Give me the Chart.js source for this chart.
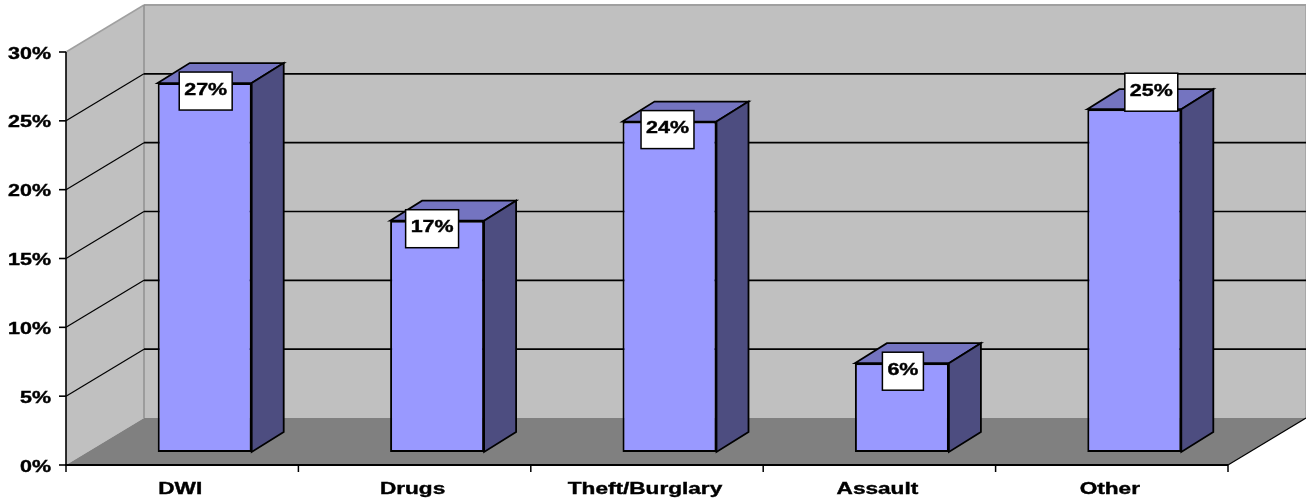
<!DOCTYPE html>
<html><head><meta charset="utf-8">
<style>html,body{margin:0;padding:0;background:#fff}canvas{display:block}</style>
<script src="https://cdn.jsdelivr.net/npm/chart.js@4"></script>
</head><body><canvas id="c" width="1306" height="499"></canvas>
<script>
const categories = ['DWI','Drugs','Theft/Burglary','Assault','Other'];
const shares = [26.8,16.8,24,6.45,24.9];
const shareLabels = ['27%','17%','24%','6%','25%'];
const yTicks = [0,5,10,15,20,25,30];

// 3D look
const DEPTH = {x:78,y:-47}, BAR_SHIFT = {x:22.5,y:-13}, BAR_DEPTH = {x:32,y:-20};
const LABEL_NUDGE_X = [1,-5,-2,1,17];
const LABEL_NUDGE_Y = [0,0,0,0,-25];
const STRETCH = 1.3, CAT_STRETCH = 1.37, FONT = 'bold 16.5px "Liberation Sans", Arial, sans-serif';

function poly(ctx, pts, fill, stroke, lw){
  ctx.beginPath(); pts.forEach((p,i)=> i?ctx.lineTo(p[0],p[1]):ctx.moveTo(p[0],p[1])); ctx.closePath();
  if(fill){ctx.fillStyle=fill;ctx.fill();}
  if(stroke){ctx.strokeStyle=stroke;ctx.lineWidth=lw;ctx.lineJoin='miter';ctx.stroke();}
}
function line(ctx,x1,y1,x2,y2,color,lw){
  ctx.beginPath();ctx.moveTo(x1,y1);ctx.lineTo(x2,y2);ctx.strokeStyle=color;ctx.lineWidth=lw;ctx.stroke();
}
function text(ctx,s,x,y,align,stretch){
  ctx.save();ctx.font=FONT;ctx.fillStyle='#000';ctx.strokeStyle='#000';ctx.lineWidth=0.4;ctx.textBaseline='middle';ctx.textAlign=align;
  ctx.translate(x,y);ctx.scale(stretch||STRETCH,1);ctx.fillText(s,0,0);ctx.strokeText(s,0,0);
  ctx.restore();
}
const scene = {
  id:'scene',
  beforeDatasetsDraw(chart){
    const {ctx,chartArea:a,scales:{x,y}}=chart, dx=DEPTH.x, dy=DEPTH.y;
    ctx.save();
    const L=a.left,R=a.right,T=a.top,B=a.bottom;
    poly(ctx,[[L,T],[L+dx,T+dy],[L+dx,B+dy],[L,B]],'#c0c0c0');
    poly(ctx,[[L+dx,T+dy],[R+dx,T+dy],[R+dx,B+dy],[L+dx,B+dy]],'#c0c0c0');
    poly(ctx,[[L,B],[L+dx,B+dy],[R+dx,B+dy],[R,B]],'#808080');
    line(ctx,L,T,L+dx,T+dy,'#a0a0a0',1.5);
    line(ctx,L+dx,T+dy,R+dx,T+dy,'#a0a0a0',2);
    line(ctx,R+dx,T+dy,R+dx,B+dy,'#a0a0a0',1.5);
    line(ctx,L+dx,T+dy,L+dx,B+dy,'#909090',1.5);
    yTicks.forEach(v=>{
      const p=y.getPixelForValue(v);
      if(v>0&&v<30){
        line(ctx,L,p,L+dx,p+dy,'#000',1.2);
        line(ctx,L+dx,p+dy,R+dx,p+dy,'#000',1.6);
      }
      line(ctx,L-7,p,L,p,'#000',1.6);
      text(ctx,v+'%',L-15,p+2,'right');
    });
    line(ctx,R,B,R+dx,B+dy,'#000',1.2);
    line(ctx,L,T,L,B+1,'#000',1.6);
    line(ctx,L-1,B,R,B,'#000',2);
    const half=(x.getPixelForValue(1)-x.getPixelForValue(0))/2;
    categories.forEach((c,i)=>{
      const p=x.getPixelForValue(i);
      line(ctx,p-half,B,p-half,B+7,'#000',1.5);
      if(i===categories.length-1) line(ctx,p+half,B,p+half,B+7,'#000',1.5);
      text(ctx,c,p-2,B+24,'center',CAT_STRETCH);
    });
    ctx.restore();
    ctx.save();
    ctx.translate(BAR_SHIFT.x,BAR_SHIFT.y);
  },
  afterDatasetsDraw(chart){
    const {ctx}=chart;
    ctx.restore();
    const meta=chart.getDatasetMeta(0), dx=BAR_DEPTH.x, dy=BAR_DEPTH.y;
    ctx.save();
    meta.data.forEach(b=>{
      const l=b.x-b.width/2+BAR_SHIFT.x,r=b.x+b.width/2+BAR_SHIFT.x,t=b.y+BAR_SHIFT.y,bo=b.base+BAR_SHIFT.y;
      poly(ctx,[[l,t],[l+dx,t+dy],[r+dx,t+dy],[r,t]],'#7474c0','#000',1.8);
      poly(ctx,[[r,t],[r+dx,t+dy],[r+dx,bo+dy],[r,bo]],'#4d4d80','#000',1.8);
    });
    ctx.font=FONT;
    meta.data.forEach((b,i)=>{
      const s=shareLabels[i],w=ctx.measureText(s).width*STRETCH+10;
      const cx=b.x+BAR_SHIFT.x+LABEL_NUDGE_X[i],top=b.y+BAR_SHIFT.y-11+LABEL_NUDGE_Y[i];
      ctx.fillStyle='#fff';ctx.fillRect(cx-w/2,top,w,38);
      ctx.strokeStyle='#000';ctx.lineWidth=1.5;ctx.strokeRect(cx-w/2,top,w,38);
      text(ctx,s,cx,top+18,'center');
    });
    ctx.restore();
  }
};
new Chart(document.getElementById('c'),{
  type:'bar',
  data:{labels:categories,datasets:[{data:shares,backgroundColor:'#9999ff',borderColor:'#000',borderWidth:2,borderSkipped:false,
    barPercentage:1,categoryPercentage:0.4045,clip:false}]},
  options:{
    responsive:false,animation:false,devicePixelRatio:1,
    layout:{padding:{left:66,right:78,top:52,bottom:34}},
    plugins:{legend:{display:false},tooltip:{enabled:false},title:{display:false}},
    scales:{
      x:{grid:{display:false},border:{display:false},ticks:{display:false},afterFit(s){s.height=0;}},
      y:{min:0,max:30,grid:{display:false},border:{display:false},ticks:{display:false,stepSize:5},afterFit(s){s.width=0;}}
    }
  },
  plugins:[scene]
});
</script></body></html>
